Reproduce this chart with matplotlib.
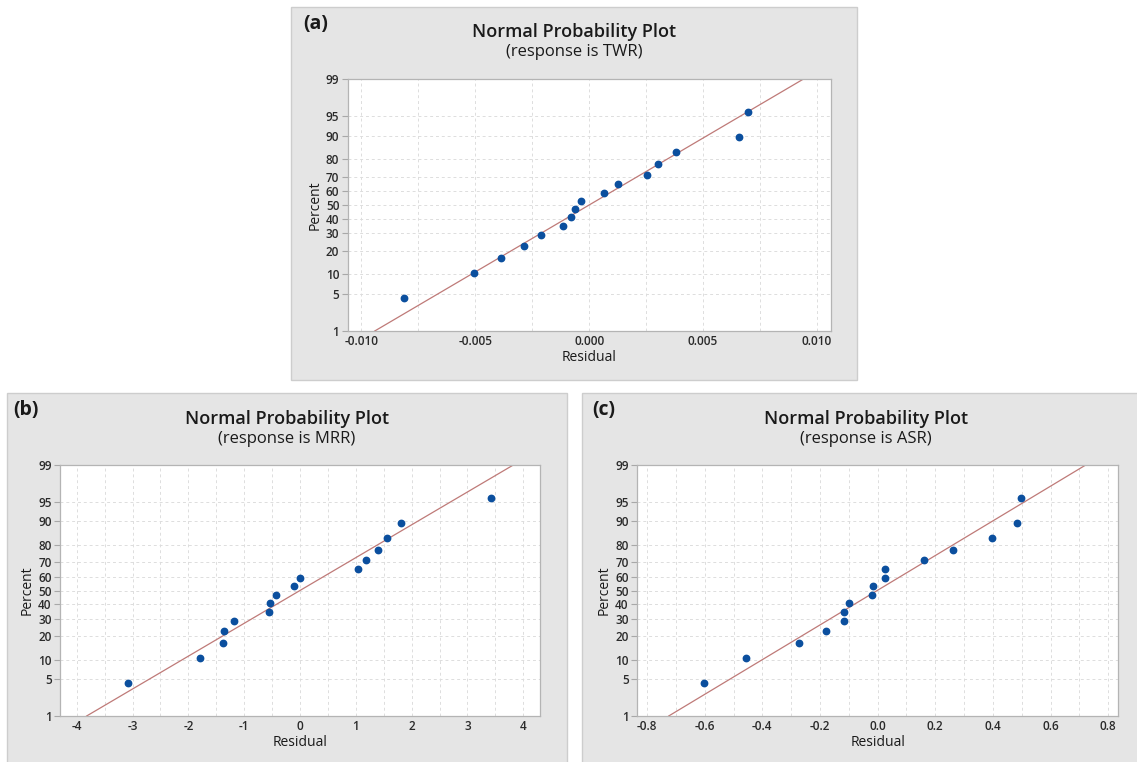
import matplotlib
matplotlib.use('Agg')
import matplotlib.pyplot as plt
import numpy as np
from statistics import NormalDist
from matplotlib.patches import Rectangle
from matplotlib.ticker import FixedLocator, MultipleLocator, NullLocator, FormatStrFormatter

# plotting positions (percent) of the 16 residuals
percent = [4.3, 10.4, 16.5, 22.6, 28.7, 34.8, 40.9, 47.0,
           53.0, 59.1, 65.2, 71.3, 77.4, 83.5, 89.6, 95.7]

# residuals (sorted)
twr_res = [-0.00812, -0.00505, -0.00385, -0.00284, -0.00212, -0.00116, -0.00078, -0.00062,
           -0.00036, 0.00066, 0.00125, 0.00253, 0.00304, 0.00382, 0.00656, 0.00699]
mrr_res = [-3.08, -1.79, -1.38, -1.37, -1.18, -0.56, -0.53, -0.43,
           -0.10, 0.00, 1.04, 1.18, 1.40, 1.56, 1.81, 3.42]
asr_res = [-0.603, -0.456, -0.272, -0.180, -0.117, -0.117, -0.099, -0.019,
           -0.016, 0.027, 0.027, 0.162, 0.261, 0.396, 0.483, 0.499]

y_ticks = [1, 5, 10, 20, 30, 40, 50, 60, 70, 80, 90, 95, 99]

plt.rcParams['font.family'] = ['Open Sans', 'DejaVu Sans']
plt.rcParams['font.weight'] = 'semibold'
plt.rcParams['axes.unicode_minus'] = False

W, H = 1137, 762
nd = NormalDist()
_ppf = np.vectorize(nd.inv_cdf, otypes=[float])
_cdf = np.vectorize(nd.cdf, otypes=[float])


def fwd(p):
    p = np.clip(np.asarray(p, dtype=float) / 100.0, 1e-7, 1 - 1e-7)
    return _ppf(p)


def inv(z):
    return _cdf(np.asarray(z, dtype=float)) * 100.0


def fx(px):
    return px / W


def fy(py):
    return 1 - py / H


fig = plt.figure(figsize=(W / 100, H / 100), dpi=100)


def panel(box, plot, lab, lab_x, resp, res, xlim, xmaj, xminor, fmt):
    x0, y0, x1, y1 = box
    fig.add_artist(Rectangle((fx(x0), fy(y1)), fx(x1 - x0), (y1 - y0) / H,
                             transform=fig.transFigure, facecolor='#e5e5e5',
                             edgecolor='#cdcdcd', lw=1, zorder=0))
    px0, py0, px1, py1 = plot
    ax = fig.add_axes([fx(px0), fy(py1), fx(px1 - px0), (py1 - py0) / H])
    ax.set_facecolor('white')
    ax.set_yscale('function', functions=(fwd, inv))
    ax.set_ylim(1, 99)
    ax.set_xlim(-xlim, xlim)

    # fit line from mean and standard deviation of the residuals
    m = np.mean(res)
    s = np.std(res, ddof=1)
    pl = np.array([1, 99])
    ax.plot(m + s * fwd(pl), pl, color='#bf7a78', lw=0.9, zorder=2)
    ax.plot(res, percent, 'o', color='#0b4f9e', ms=4.6, zorder=3)

    ax.yaxis.set_major_locator(FixedLocator(y_ticks))
    ax.yaxis.set_minor_locator(NullLocator())
    ax.set_yticklabels([str(t) for t in y_ticks])
    ax.xaxis.set_major_locator(MultipleLocator(xmaj))
    ax.xaxis.set_minor_locator(MultipleLocator(xminor))
    ax.xaxis.set_major_formatter(FormatStrFormatter(fmt))

    ax.grid(True, which='both', axis='x', color='#dddddd', ls=(0, (3, 3)), lw=0.7)
    ax.grid(True, which='major', axis='y', color='#dddddd', ls=(0, (3, 3)), lw=0.7)
    ax.set_axisbelow(True)
    ax.tick_params(which='major', labelsize=8.5, labelcolor='#2a2a2a', color='#a8a8a8', width=0.8)
    ax.tick_params(axis='y', which='major', length=4, pad=2)
    ax.tick_params(axis='x', which='major', length=0, pad=3)
    ax.tick_params(which='minor', length=0)
    for sp in ax.spines.values():
        sp.set_color('#b4b4b4')
        sp.set_linewidth(0.9)

    cx = (x0 + x1) / 2
    fig.text(fx(cx), fy(y0 + 25.5), 'Normal Probability Plot', ha='center', va='center',
             fontsize=13, fontweight='semibold', color='#1a1a1a')
    fig.text(fx(cx), fy(y0 + 45.5), '(response is %s)' % resp, ha='center', va='center',
             fontsize=12, fontweight='normal', color='#1a1a1a')
    fig.text(fx(lab_x), fy(y0 + 17.5), lab, ha='left', va='center',
             fontsize=14, fontweight='bold', color='#1a1a1a')
    fig.text(fx((px0 + px1) / 2), fy(py1 + 26.5), 'Residual', ha='center', va='center',
             fontsize=10, fontweight='normal', color='#1a1a1a')
    fig.text(fx(px0 - 33), fy((py0 + py1) / 2), 'Percent', ha='center', va='center',
             rotation=90, fontsize=10, fontweight='normal', color='#1a1a1a')
    return ax


panel((291, 6.7, 857, 380), (347.7, 79, 830.7, 331), '(a)', 303.5, 'TWR', twr_res,
      0.0106, 0.005, 0.0025, '%.3f')
panel((7, 393, 566.7, 775), (60, 465, 540, 716), '(b)', 13, 'MRR', mrr_res,
      4.30, 1, 0.5, '%d')
panel((582.3, 393, 1150, 775), (637, 465, 1118.3, 716), '(c)', 592.5, 'ASR', asr_res,
      0.835, 0.2, 0.1, '%.1f')

fig.savefig('out.png', dpi=100)
